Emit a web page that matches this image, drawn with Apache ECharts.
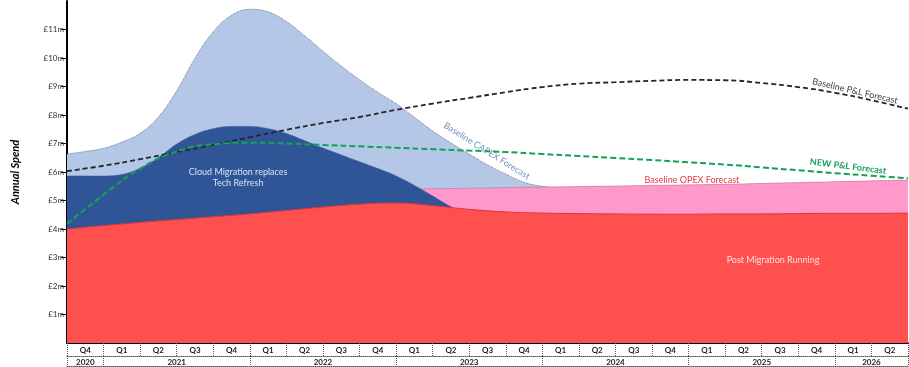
<!DOCTYPE html>
<html>
<head>
<meta charset="utf-8">
<script src="https://cdn.jsdelivr.net/npm/echarts@6/dist/echarts.min.js"></script>
<style>html,body{margin:0;padding:0;background:#fff}#c{width:909px;height:367px}</style>
</head>
<body>
<div id="c"></div>
<script>
// Quarter labels (23 quarters, Q4 2020 .. Q2 2026)
const quarters = ['Q4','Q1','Q2','Q3','Q4','Q1','Q2','Q3','Q4','Q1','Q2','Q3','Q4','Q1','Q2','Q3','Q4','Q1','Q2','Q3','Q4','Q1','Q2'];
// Year labels and number of quarters each spans
const years = ['2020','2021','2022','2023','2024','2025','2026'];
const yearQuarters = [1,4,4,4,4,4,2];
// Y tick labels (£m)
const yTicks = [1,2,3,4,5,6,7,8,9,10,11];

// Values (£m) read every half quarter (47 points)
const baselineCapex = [6.63,6.72,6.83,7.05,7.36,7.93,8.85,9.99,10.92,11.5,11.71,11.62,11.28,10.78,10.24,9.72,9.24,8.8,8.4,7.92,7.44,7.02,6.63,6.25,5.93,5.64,5.5,5.46,
  5.47,5.48,5.49,5.5,5.51,5.52,5.53,5.54,5.55,5.56,5.58,5.59,5.61,5.62,5.64,5.65,5.67,5.68,5.7];
const cloudMigration = [5.86,5.86,5.86,5.91,6.13,6.5,6.98,7.32,7.52,7.6,7.6,7.52,7.35,7.1,6.84,6.6,6.36,6.12,5.86,5.53,5.16,4.78,4.5,4.4,
  4.4,4.4,4.4,4.4,4.4,4.4,4.4,4.4,4.4,4.4,4.4,4.4,4.4,4.4,4.4,4.4,4.4,4.4,4.4,4.4,4.4,4.4,4.4];
// Values (£m) read at each quarter boundary (24 points)
const baselineOpex  = [5.2,5.22,5.24,5.26,5.28,5.3,5.32,5.34,5.36,5.38,5.41,5.43,5.45,5.47,5.49,5.51,5.53,5.55,5.57,5.6,5.63,5.66,5.69,5.72];
const postMigration = [4.0,4.12,4.23,4.33,4.43,4.53,4.65,4.77,4.87,4.91,4.82,4.69,4.6,4.56,4.54,4.53,4.52,4.52,4.53,4.53,4.54,4.55,4.55,4.56];
const baselinePL = [6.03,6.22,6.45,6.7,6.95,7.22,7.48,7.72,7.93,8.18,8.4,8.6,8.8,8.98,9.1,9.15,9.2,9.23,9.22,9.12,8.98,8.78,8.52,8.22];
const newPL = [4.18,5.2,6.12,6.72,6.97,7.03,7.0,6.95,6.9,6.85,6.8,6.75,6.7,6.63,6.56,6.49,6.42,6.34,6.26,6.16,6.06,5.96,5.87,5.78];

const FONT = 'Lato';
const nQ = quarters.length;
const pts = (arr, step) => arr.map((v, i) => [i * step, v]);
const qCenters = quarters.map((q, i) => i + 0.5);
const qBounds = Array.from({length: nQ + 1}, (_, i) => i);
const yBounds = [0]; const yCenters = [];
yearQuarters.forEach((n, i) => { yCenters.push(yBounds[i] + n / 2); yBounds.push(yBounds[i] + n); });
const yearAt = v => { for (let i = 0; i < years.length; i++) if (v >= yBounds[i] && v <= yBounds[i + 1]) return years[i]; return ''; };

function note(text, k, v, color, rotate, extra) {
  return {
    coord: [k, v], symbol: 'circle', symbolSize: 1, itemStyle: {color: 'rgba(0,0,0,0)'},
    label: Object.assign({ show: true, position: 'inside', formatter: text, color: color, rotate: rotate || 0,
      fontFamily: FONT, fontSize: 9, lineHeight: 11 }, extra || {})
  };
}

const chart = echarts.init(document.getElementById('c'), null, {renderer: 'canvas'});
const dotted = {type: 'dotted', color: '#555', width: 1};
chart.setOption({
  animation: false,
  grid: {left: 67, right: 1, top: 1, bottom: 24},
  xAxis: [
    { type: 'value', min: 0, max: nQ, position: 'bottom',
      axisLine: {show: true, onZero: false, lineStyle: {color: '#000', width: 2}},
      axisTick: {show: true, customValues: qBounds, length: 13, lineStyle: dotted},
      axisLabel: {customValues: qCenters, formatter: v => quarters[Math.floor(v)], margin: 3,
        fontFamily: FONT, fontSize: 8, fontWeight: 'bold', color: '#222'},
      splitLine: {show: false} },
    { type: 'value', min: 0, max: nQ, position: 'bottom', offset: 13,
      axisLine: {show: true, onZero: false, lineStyle: dotted},
      axisTick: {show: true, customValues: yBounds, length: 10, lineStyle: dotted},
      axisLabel: {customValues: yCenters, formatter: v => yearAt(v), margin: 2,
        fontFamily: FONT, fontSize: 8, fontWeight: 'bold', color: '#222'},
      splitLine: {show: false} },
    { type: 'value', min: 0, max: nQ, position: 'bottom', offset: 23,
      axisLine: {show: true, onZero: false, lineStyle: dotted},
      axisTick: {show: false}, axisLabel: {show: false}, splitLine: {show: false} }
  ],
  yAxis: {
    type: 'value', min: 0, max: 12, interval: 1,
    name: 'Annual Spend', nameLocation: 'middle', nameGap: 46,
    nameTextStyle: {fontFamily: FONT, fontSize: 11, fontWeight: 'bold', fontStyle: 'italic', color: '#000'},
    axisLine: {show: true, lineStyle: {color: '#000', width: 2}},
    axisTick: {show: true, customValues: yTicks, length: 6, lineStyle: {color: '#000', width: 1}},
    axisLabel: {customValues: yTicks, formatter: v => '£' + v + 'm', margin: 3,
      fontFamily: FONT, fontSize: 8, color: '#333'},
    splitLine: {show: false}
  },
  series: [
    { name: 'Baseline CAPEX Forecast', type: 'line', data: pts(baselineCapex, 0.5), smooth: 0.4, symbol: 'none', z: 1,
      lineStyle: {color: '#5a6070', width: 0.8, type: 'dotted'}, areaStyle: {color: '#B4C7E7', opacity: 1},
      markPoint: {data: [note('Baseline CAPEX Forecast', 11.48, 6.74, '#7491c4', -32)]} },
    { name: 'Baseline OPEX Forecast', type: 'line', data: pts(baselineOpex, 1), smooth: 0.5, symbol: 'none', z: 2,
      lineStyle: {color: '#b05070', width: 0.8, type: 'dotted'}, areaStyle: {color: '#FF99CC', opacity: 1},
      markPoint: {data: [note('Baseline OPEX Forecast', 17.09, 5.7, '#e8383d', 0)]} },
    { name: 'Cloud Migration replaces Tech Refresh', type: 'line', data: pts(cloudMigration, 0.5), smooth: 0.4, symbol: 'none', z: 3,
      lineStyle: {color: '#2F5597', width: 0.5}, areaStyle: {color: '#2F5597', opacity: 1},
      markPoint: {data: [note('Cloud Migration replaces\nTech Refresh', 4.68, 5.79, '#dbe3f2', 0)]} },
    { name: 'Post Migration Running', type: 'line', data: pts(postMigration, 1), smooth: 0.5, symbol: 'none', z: 4,
      lineStyle: {color: '#d8383c', width: 1}, areaStyle: {color: '#FF5050', opacity: 1},
      markPoint: {data: [note('Post Migration Running', 19.31, 2.91, '#ffdede', 0)]} },
    { name: 'Baseline P&L Forecast', type: 'line', data: pts(baselinePL, 1), smooth: 0.5, symbol: 'none', z: 5,
      lineStyle: {color: '#262626', width: 1.8, type: [5, 3]},
      markPoint: {data: [note('Baseline P&L Forecast', 21.55, 8.84, '#404040', -13)]} },
    { name: 'NEW P&L Forecast', type: 'line', data: pts(newPL, 1), smooth: 0.5, symbol: 'none', z: 6,
      lineStyle: {color: '#14a356', width: 2, type: [6, 3]},
      markPoint: {data: [note('NEW P&L Forecast', 21.36, 6.2, '#14a356', -7, {fontWeight: 'bold'})]} }
  ]
});
</script>
</body>
</html>
